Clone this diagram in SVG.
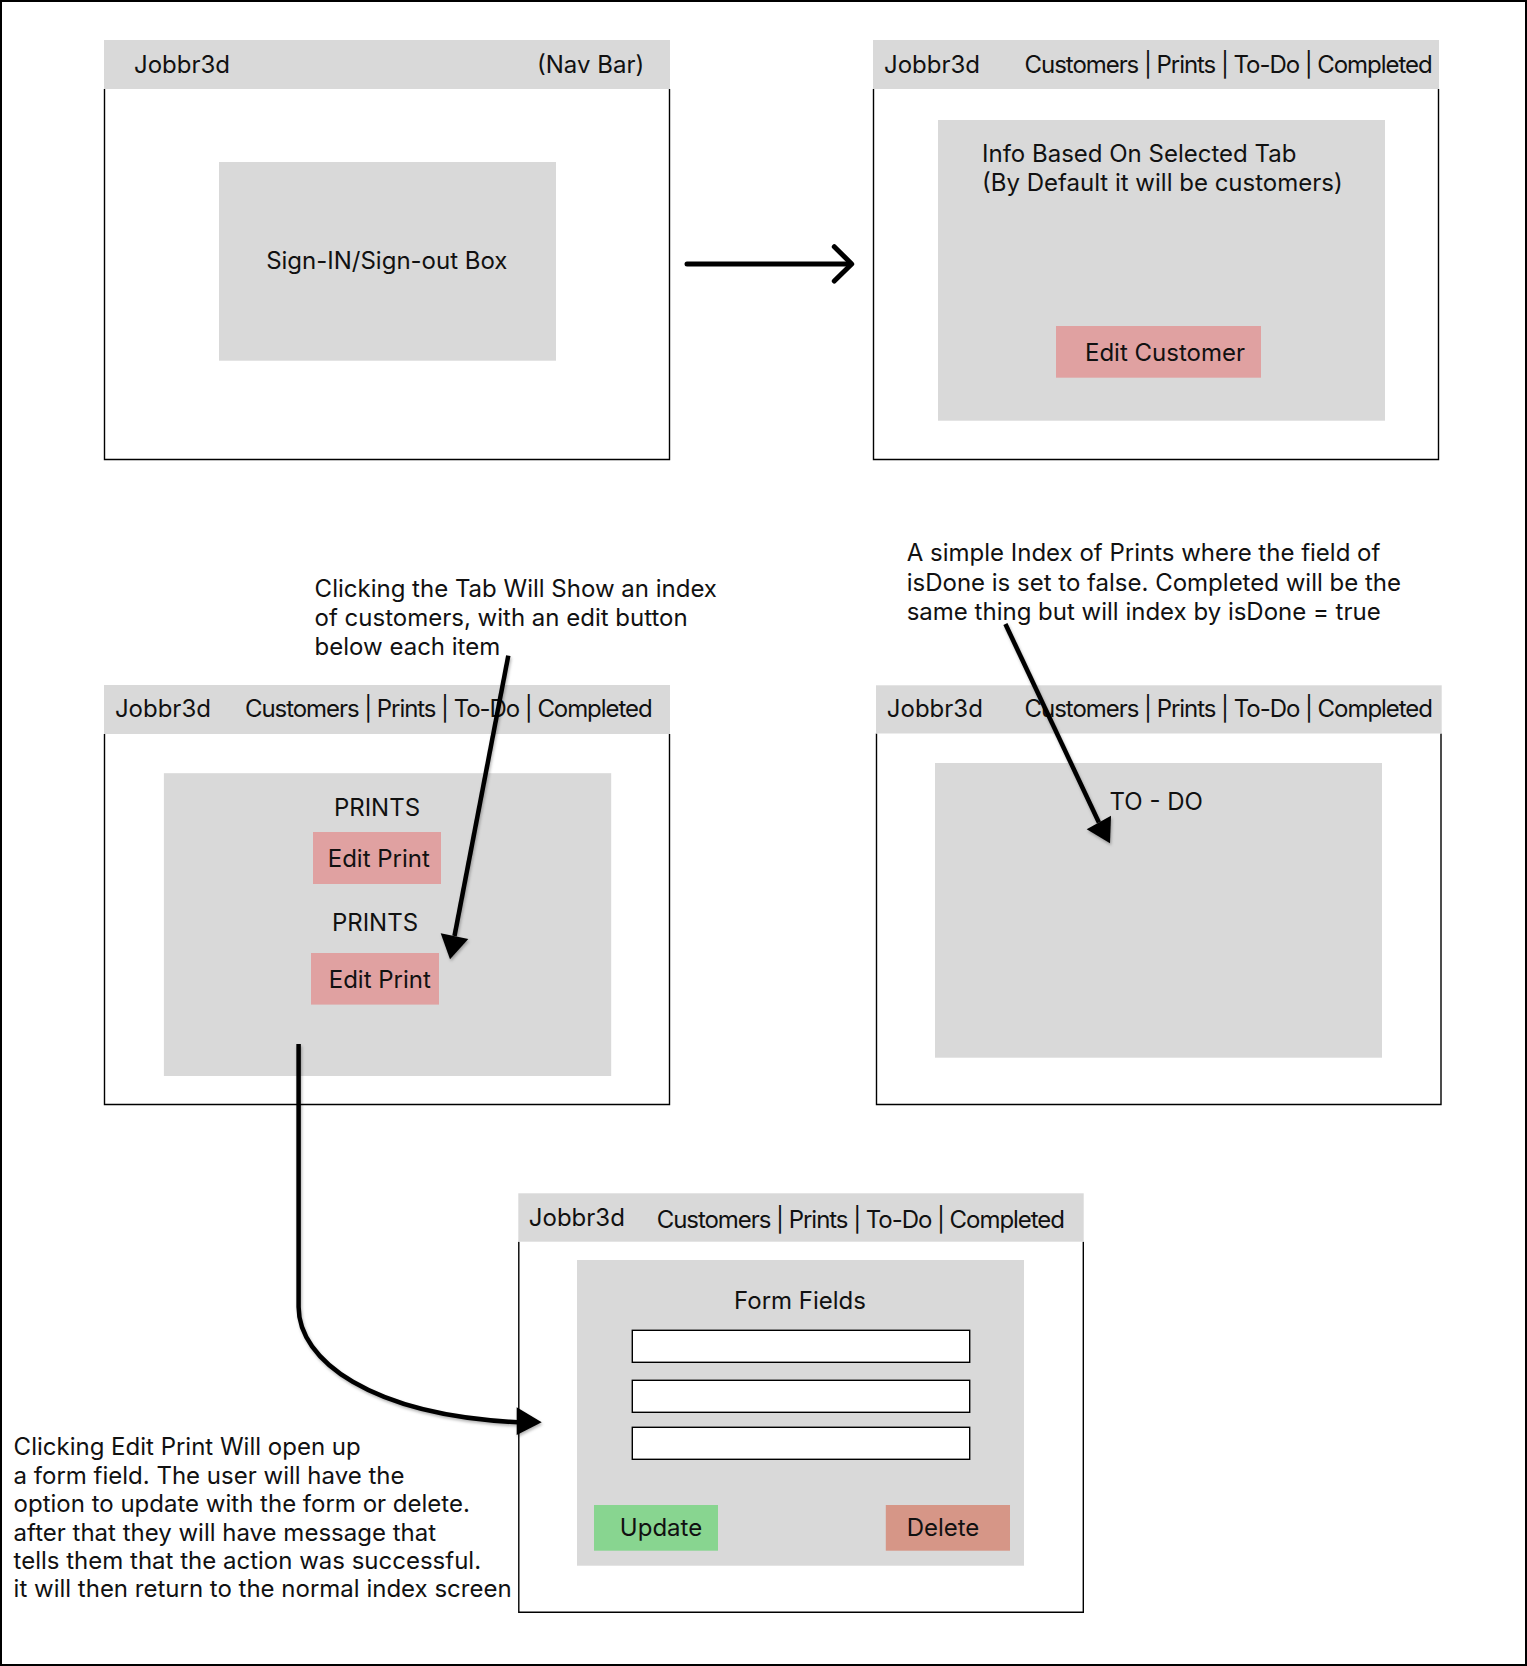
<svg xmlns="http://www.w3.org/2000/svg" width="1527" height="1666" viewBox="0 0 1527 1666">
<style>
  text { font-family: Inter, "Noto Sans", "Liberation Sans", sans-serif; fill: #111; }
  .ui { font-size: 24px; }
  .note { font-size: 24px; }
  .nav { fill: #D9D9D9; }
  .frame { fill: none; stroke: #000; stroke-width: 1.4; }
  .panel { fill: #D9D9D9; }
  .btn { fill: #E0A1A1; }
  .field { fill: #fff; stroke: #000; stroke-width: 1.4; }
  .conn { fill: none; stroke: #000; stroke-width: 4.5; }
  .head { fill: #000; stroke: none; }
</style>
<defs>
  <filter id="sh" x="-20%" y="-20%" width="140%" height="140%">
    <feDropShadow dx="1" dy="2" stdDeviation="1.5" flood-color="#000" flood-opacity="0.3"/>
  </filter>
</defs>
<rect x="0" y="0" width="1527" height="1666" fill="#fff"/>
<rect x="1" y="1" width="1525" height="1664" fill="none" stroke="#000" stroke-width="2"/>

<g id="screen-signin">
  <path class="frame" d="M104.5,89 V459.5 H669.5 V89"/>
  <rect class="nav" x="104" y="40" width="566" height="49"/>
  <text class="ui" x="134" y="72.7">Jobbr3d</text>
  <text class="ui" x="644.2" y="72.7" text-anchor="end">(Nav Bar)</text>
  <rect class="panel" x="219" y="162" width="337" height="198.7"/>
  <text class="ui" x="386.8" y="269.3" text-anchor="middle">Sign-IN/Sign-out Box</text>
</g>

<g id="screen-customers">
  <path class="frame" d="M873.5,89 V459.5 H1438.5 V89"/>
  <rect class="nav" x="873" y="40" width="566" height="49"/>
  <text class="ui" x="884" y="72.7">Jobbr3d</text>
  <text class="ui" x="1024.6" y="72.7" textLength="408" lengthAdjust="spacing" xml:space="preserve">Customers | Prints | To-Do | Completed</text>
  <rect class="panel" x="938" y="120" width="447" height="300.7"/>
  <text class="ui" x="982" y="161.7">Info Based On Selected Tab</text>
  <text class="ui" x="982" y="190.7">(By Default it will be customers)</text>
  <rect class="btn" x="1056" y="326" width="205" height="51.7"/>
  <text class="ui" x="1165" y="360.7" text-anchor="middle">Edit Customer</text>
</g>

<g id="screen-prints">
  <path class="frame" d="M104.5,734 V1104.5 H669.5 V734"/>
  <rect class="nav" x="104" y="685" width="566" height="49"/>
  <text class="ui" x="114.9" y="717">Jobbr3d</text>
  <text class="ui" x="245" y="717" textLength="407.6" lengthAdjust="spacing" xml:space="preserve">Customers | Prints | To-Do | Completed</text>
  <rect class="panel" x="163.9" y="773.2" width="447.3" height="302.8"/>
  <text class="ui" x="377" y="816" text-anchor="middle">PRINTS</text>
  <rect class="btn" x="313" y="832" width="128" height="52"/>
  <text class="ui" x="378.8" y="867" text-anchor="middle">Edit Print</text>
  <text class="ui" x="375" y="931.4" text-anchor="middle">PRINTS</text>
  <rect class="btn" x="311" y="953" width="128" height="51.6"/>
  <text class="ui" x="379.8" y="987.5" text-anchor="middle">Edit Print</text>
</g>

<g id="screen-todo">
  <path class="frame" d="M876.5,733.5 V1104.5 H1441 V733.5"/>
  <rect class="nav" x="876" y="685.3" width="565.7" height="48.2"/>
  <text class="ui" x="886.8" y="717">Jobbr3d</text>
  <text class="ui" x="1024.6" y="717" textLength="408.4" lengthAdjust="spacing" xml:space="preserve">Customers | Prints | To-Do | Completed</text>
  <rect class="panel" x="935" y="763" width="447" height="294.7"/>
  <text class="ui" x="1109.5" y="810">TO - DO</text>
</g>

<g id="screen-form">
  <path class="frame" d="M518.8,1241.7 V1612.3 H1083.3 V1241.7"/>
  <rect class="nav" x="518.3" y="1193.3" width="565.4" height="48.4"/>
  <text class="ui" x="528.8" y="1225.5">Jobbr3d</text>
  <text class="ui" x="656.7" y="1227.5" textLength="408.3" lengthAdjust="spacing" xml:space="preserve">Customers | Prints | To-Do | Completed</text>
  <rect class="panel" x="577" y="1260" width="447" height="305.7"/>
  <text class="ui" x="800" y="1309.3" text-anchor="middle">Form Fields</text>
  <rect class="field" x="632.3" y="1330.3" width="337.4" height="32"/>
  <rect class="field" x="632.3" y="1380.3" width="337.4" height="32"/>
  <rect class="field" x="632.3" y="1427.3" width="337.4" height="32"/>
  <rect x="594" y="1505" width="124" height="45.7" fill="#88D590"/>
  <text class="ui" x="661" y="1536" text-anchor="middle">Update</text>
  <rect x="885.8" y="1505" width="124.2" height="45.7" fill="#D69687"/>
  <text class="ui" x="943" y="1536" text-anchor="middle">Delete</text>
</g>

<g id="note-index">
  <text class="note" x="314.6" y="596.8">Clicking the Tab Will Show an index</text>
  <text class="note" x="314.6" y="626">of customers, with an edit button</text>
  <text class="note" x="314.6" y="654.6">below each item</text>
</g>

<g id="note-todo">
  <text class="note" x="906.7" y="561.3">A simple Index of Prints where the field of</text>
  <text class="note" x="906.7" y="590.8">isDone is set to false. Completed will be the</text>
  <text class="note" x="906.7" y="620.3">same thing but will index by isDone = true</text>
</g>

<g id="note-edit">
  <text class="note" x="13.6" y="1455">Clicking Edit Print Will open up</text>
  <text class="note" x="13.6" y="1484">a form field. The user will have the</text>
  <text class="note" x="13.6" y="1512.3">option to update with the form or delete.</text>
  <text class="note" x="13.6" y="1540.5">after that they will have message that</text>
  <text class="note" x="13.6" y="1569.3">tells them that the action was successful.</text>
  <text class="note" x="13.6" y="1597">it will then return to the normal index screen</text>
</g>

<g id="connectors">
  <g id="c-signin-customers">
    <line x1="687" y1="264" x2="850" y2="264" stroke="#000" stroke-width="5" stroke-linecap="round"/>
    <polyline points="834.3,246.7 851.7,264 834.3,281" fill="none" stroke="#000" stroke-width="5" stroke-linecap="round" stroke-linejoin="round"/>
  </g>
  <g id="c-note-index" filter="url(#sh)">
    <line class="conn" x1="508.3" y1="655.7" x2="454.5" y2="936"/>
    <polygon class="head" points="440.7,933.3 468.3,939 450,959.3"/>
  </g>
  <g id="c-note-todo" filter="url(#sh)">
    <line class="conn" x1="1005.4" y1="624" x2="1098.9" y2="822.5"/>
    <polygon class="head" points="1086.7,829.3 1111,815.7 1110,843.3"/>
  </g>
  <g id="c-edit-form" filter="url(#sh)">
    <path class="conn" d="M298.6,1044 V1307 C298.6,1360 370,1415 518,1422.3"/>
    <polygon class="head" points="516.7,1407.3 516.7,1435 541.7,1422.3"/>
  </g>
</g>
</svg>
